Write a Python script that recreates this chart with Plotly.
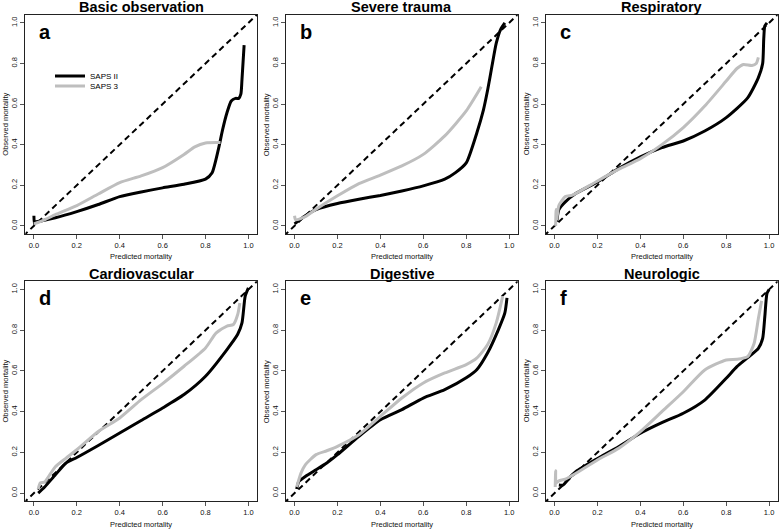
import plotly.graph_objects as go

# ---------------- data ----------------
TITLES = ["Basic observation", "Severe trauma", "Respiratory",
          "Cardiovascular", "Digestive", "Neurologic"]
LETTERS = ["a", "b", "c", "d", "e", "f"]
SERIES_NAMES = ["SAPS II", "SAPS 3"]
TICK_VALS = [0.0, 0.2, 0.4, 0.6, 0.8, 1.0]
TICK_TEXT = ["0.0", "0.2", "0.4", "0.6", "0.8", "1.0"]
DIAG = [-0.05, 1.05]

# (a) Basic observation
A_S2_X = [0.0, 0.002, 0.005, 0.01, 0.1, 0.2, 0.3, 0.4, 0.5, 0.6, 0.7, 0.8, 0.83, 0.86, 0.88, 0.9, 0.92, 0.94, 0.955, 0.965, 0.97, 0.98]
A_S2_Y = [0.05, 0.01, 0.02, 0.02, 0.04, 0.07, 0.105, 0.144, 0.167, 0.187, 0.205, 0.23, 0.26, 0.377, 0.475, 0.557, 0.615, 0.628, 0.628, 0.65, 0.72, 0.89]
A_S3_X = [0.0, 0.05, 0.1, 0.2, 0.3, 0.4, 0.5, 0.6, 0.7, 0.75, 0.8, 0.87]
A_S3_Y = [0.01, 0.03, 0.055, 0.10, 0.157, 0.213, 0.246, 0.287, 0.352, 0.389, 0.408, 0.41]

# (b) Severe trauma
B_S2_X = [0.0, 0.05, 0.1, 0.2, 0.3, 0.4, 0.5, 0.6, 0.7, 0.75, 0.8, 0.85, 0.88, 0.9, 0.92, 0.94, 0.96, 0.98]
B_S2_Y = [0.01, 0.05, 0.08, 0.11, 0.131, 0.15, 0.172, 0.197, 0.23, 0.262, 0.31, 0.46, 0.57, 0.67, 0.787, 0.90, 0.967, 1.0]
B_S3_X = [0.0, 0.005, 0.05, 0.1, 0.2, 0.3, 0.4, 0.5, 0.6, 0.7, 0.8, 0.87]
B_S3_Y = [0.05, 0.03, 0.045, 0.082, 0.148, 0.208, 0.25, 0.295, 0.352, 0.443, 0.566, 0.685]

# (c) Respiratory
C_S2_X = [0.01, 0.02, 0.05, 0.1, 0.2, 0.3, 0.4, 0.5, 0.6, 0.7, 0.8, 0.9, 0.95, 0.97, 0.975, 0.98, 0.99]
C_S2_Y = [0.02, 0.08, 0.118, 0.16, 0.216, 0.283, 0.34, 0.385, 0.418, 0.467, 0.533, 0.63, 0.73, 0.80, 0.92, 0.984, 1.0]
C_S3_X = [0.005, 0.007, 0.01, 0.02, 0.05, 0.08, 0.1, 0.2, 0.3, 0.4, 0.5, 0.6, 0.7, 0.8, 0.85, 0.88, 0.92, 0.94, 0.95]
C_S3_Y = [0.0, 0.08, 0.03, 0.10, 0.145, 0.15, 0.16, 0.221, 0.279, 0.331, 0.40, 0.484, 0.59, 0.713, 0.775, 0.795, 0.79, 0.80, 0.83]

# (d) Cardiovascular
D_S2_X = [0.02, 0.05, 0.1, 0.15, 0.2, 0.3, 0.4, 0.5, 0.6, 0.7, 0.8, 0.9, 0.95, 0.97, 0.985, 1.0]
D_S2_Y = [0.0, 0.03, 0.09, 0.148, 0.175, 0.234, 0.295, 0.357, 0.418, 0.484, 0.574, 0.705, 0.78, 0.836, 0.967, 1.008]
D_S3_X = [0.02, 0.03, 0.05, 0.08, 0.1, 0.15, 0.2, 0.3, 0.4, 0.5, 0.6, 0.7, 0.8, 0.85, 0.9, 0.93, 0.95, 0.96]
D_S3_Y = [0.02, 0.05, 0.055, 0.10, 0.13, 0.172, 0.213, 0.303, 0.369, 0.459, 0.538, 0.623, 0.713, 0.787, 0.82, 0.828, 0.877, 0.934]

# (e) Digestive
E_S2_X = [0.01, 0.02, 0.05, 0.1, 0.15, 0.2, 0.3, 0.4, 0.5, 0.6, 0.7, 0.8, 0.85, 0.9, 0.95, 0.98, 0.99]
E_S2_Y = [0.02, 0.057, 0.082, 0.115, 0.148, 0.189, 0.279, 0.36, 0.41, 0.467, 0.508, 0.566, 0.607, 0.689, 0.803, 0.885, 0.959]
E_S3_X = [0.01, 0.03, 0.05, 0.1, 0.15, 0.2, 0.3, 0.4, 0.5, 0.6, 0.7, 0.8, 0.85, 0.9, 0.94, 0.97]
E_S3_Y = [0.03, 0.098, 0.139, 0.189, 0.208, 0.23, 0.287, 0.377, 0.467, 0.541, 0.59, 0.631, 0.664, 0.73, 0.836, 0.967]

# (f) Neurologic
F_S2_X = [0.02, 0.04, 0.06, 0.1, 0.2, 0.3, 0.4, 0.5, 0.6, 0.7, 0.8, 0.85, 0.9, 0.95, 0.97, 0.98, 0.99, 1.0]
F_S2_Y = [0.04, 0.04, 0.065, 0.106, 0.17, 0.229, 0.294, 0.346, 0.392, 0.457, 0.564, 0.621, 0.665, 0.711, 0.76, 0.866, 0.98, 1.0]
F_S3_X = [0.003, 0.005, 0.007, 0.02, 0.05, 0.1, 0.2, 0.3, 0.4, 0.5, 0.6, 0.7, 0.8, 0.85, 0.9, 0.93, 0.95, 0.965]
F_S3_Y = [0.03, 0.11, 0.05, 0.06, 0.069, 0.098, 0.163, 0.221, 0.302, 0.40, 0.498, 0.605, 0.654, 0.657, 0.67, 0.735, 0.858, 0.944]

PANELS = [
    (A_S2_X, A_S2_Y, A_S3_X, A_S3_Y),
    (B_S2_X, B_S2_Y, B_S3_X, B_S3_Y),
    (C_S2_X, C_S2_Y, C_S3_X, C_S3_Y),
    (D_S2_X, D_S2_Y, D_S3_X, D_S3_Y),
    (E_S2_X, E_S2_Y, E_S3_X, E_S3_Y),
    (F_S2_X, F_S2_Y, F_S3_X, F_S3_Y),
]

# ---------------- layout constants ----------------
W, H = 779, 529
FONT = "Liberation Sans, Arial, Helvetica, sans-serif"
XDOM = [[0.0325, 0.3299], [0.3671, 0.6646], [0.7009, 0.9983]]
YDOM = [[0.5577, 0.9722], [0.0524, 0.4682]]
BLACK = "#000000"
GREY = "#bebebe"

fig = go.Figure()
annotations = []
layout = {}

for i, (s2x, s2y, s3x, s3y) in enumerate(PANELS):
    n = i + 1
    xa = "x" if n == 1 else f"x{n}"
    ya = "y" if n == 1 else f"y{n}"
    row, col = divmod(i, 3)

    fig.add_trace(go.Scatter(x=DIAG, y=DIAG, mode="lines", xaxis=xa, yaxis=ya,
                             line=dict(color=BLACK, width=2, dash="6px,4px"),
                             showlegend=False, hoverinfo="skip"))
    fig.add_trace(go.Scatter(x=s2x, y=s2y, mode="lines", xaxis=xa, yaxis=ya,
                             name=SERIES_NAMES[0],
                             line=dict(color=BLACK, width=3, shape="spline", smoothing=0.6),
                             showlegend=(i == 0), legend="legend"))
    fig.add_trace(go.Scatter(x=s3x, y=s3y, mode="lines", xaxis=xa, yaxis=ya,
                             name=SERIES_NAMES[1],
                             line=dict(color=GREY, width=3, shape="spline", smoothing=0.6),
                             showlegend=(i == 0), legend="legend2"))

    axcommon = dict(range=[-0.04, 1.04], tickvals=TICK_VALS, ticktext=TICK_TEXT,
                    showgrid=False, zeroline=False, showline=True, mirror=True,
                    linecolor="#222222", linewidth=1, ticks="outside", ticklen=4,
                    tickcolor="#555555", tickfont=dict(family=FONT, size=7.5, color="#111111"))
    layout["xaxis" if n == 1 else f"xaxis{n}"] = dict(axcommon, domain=XDOM[col], anchor=ya)
    layout["yaxis" if n == 1 else f"yaxis{n}"] = dict(axcommon, domain=YDOM[row], anchor=xa,
                                                       tickangle=-90)

    dx = f"{xa} domain"
    dy = f"{ya} domain"
    annotations.append(dict(text=f"<b>{TITLES[i]}</b>", xref=dx, yref=dy, x=0.5, y=1,
                            xanchor="center", yanchor="middle", yshift=7.5, showarrow=False,
                            font=dict(family=FONT, size=14.5, color="#000")))
    annotations.append(dict(text=f"<b>{LETTERS[i]}</b>", xref=dx, yref=dy, x=0, y=1,
                            xanchor="left", yanchor="top", xshift=12, yshift=-4, showarrow=False,
                            font=dict(family=FONT, size=20, color="#000")))
    annotations.append(dict(text="Predicted mortality", xref=dx, yref=dy, x=0.5, y=0,
                            xanchor="center", yanchor="middle", yshift=-23, showarrow=False,
                            font=dict(family=FONT, size=7.5, color="#111")))
    annotations.append(dict(text="Observed mortality", xref=dx, yref=dy, x=0, y=0.5,
                            xanchor="center", yanchor="middle", xshift=-20, textangle=-90,
                            showarrow=False, font=dict(family=FONT, size=7.5, color="#111")))

legend_common = dict(xanchor="left", yanchor="middle", bgcolor="rgba(0,0,0,0)",
                     font=dict(family=FONT, size=8, color="#000"), itemwidth=30)
fig.update_layout(
    width=W, height=H,
    margin=dict(l=0, r=0, t=0, b=0),
    paper_bgcolor="white", plot_bgcolor="white",
    font=dict(family=FONT),
    annotations=annotations,
    legend=dict(legend_common, x=50 / W, y=1 - 76 / H),
    legend2=dict(legend_common, x=50 / W, y=1 - 86 / H),
    **layout,
)

fig.write_html("out.html",
               config={"displayModeBar": False},
               post_script="document.body.style.margin='0';document.body.style.overflow='hidden';")
